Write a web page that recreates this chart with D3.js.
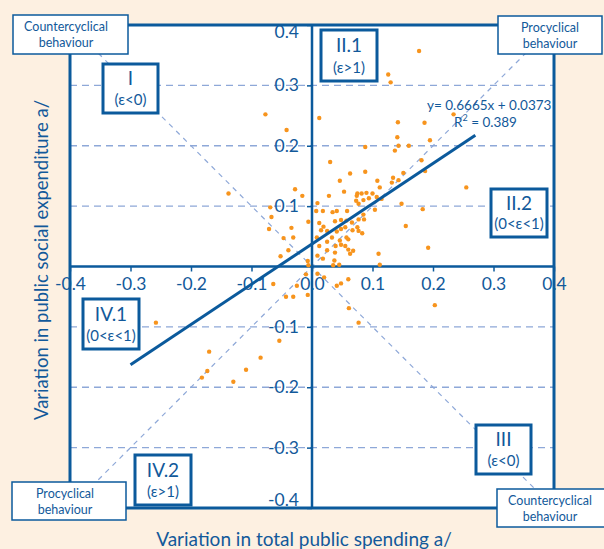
<!DOCTYPE html>
<html>
<head>
<meta charset="utf-8">
<script src="https://cdn.jsdelivr.net/npm/d3@7"></script>
<style>
  html, body { margin: 0; padding: 0; background: #fdf0e1; }
  svg { display: block; font-family: Lato, "Open Sans", sans-serif; }
</style>
</head>
<body>
<svg id="chart" width="604" height="549"></svg>
<script>
// Variation in total public spending (x) and in public social expenditure (y)
const spendingVar = [
  0.177, 0.126, 0.130, -0.077, 0.012, 0.234, 0.142, 0.186, -0.042, 0.141,
  0.195, 0.088, 0.143, 0.160, 0.137, 0.181, 0.030, 0.088, 0.063, 0.151,
  0.187, 0.134, 0.046, 0.108, 0.132, 0.143, 0.112, 0.255, -0.028, 0.053,
  -0.016, 0.075, 0.082, 0.090, 0.100, 0.074, 0.028, -0.138, 0.085, 0.094,
  0.073, 0.107, 0.115, 0.009, 0.077, 0.148, -0.069, 0.104, 0.183, 0.007,
  0.018, 0.034, 0.041, 0.058, -0.067, 0.085, -0.006, 0.012, 0.038, 0.048,
  0.057, 0.077, 0.086, 0.066, 0.155, -0.071, -0.034, 0.019, 0.048, 0.055,
  0.075, 0.015, 0.025, 0.041, 0.067, 0.083, 0.077, -0.047, -0.031, 0.008,
  0.033, 0.057, 0.025, 0.046, 0.060, 0.039, 0.048, 0.055, 0.012, -0.039,
  0.025, 0.060, 0.068, 0.192, 0.038, 0.063, -0.052, 0.009, 0.018, 0.110,
  0.037, -0.007, 0.045, 0.112, 0.035, -0.006, 0.009, 0.020, 0.060, -0.010,
  -0.064, -0.025, 0.041, 0.048, -0.043, -0.031, -0.007, 0.203, 0.061, 0.077,
  -0.258, -0.054, -0.170, -0.085, -0.173, -0.109, -0.182, -0.130
];
const socialVar = [
  0.357, 0.318, 0.305, 0.252, 0.246, 0.252, 0.239, 0.238, 0.226, 0.214,
  0.209, 0.198, 0.200, 0.200, 0.192, 0.176, 0.173, 0.157, 0.154, 0.155,
  0.158, 0.147, 0.142, 0.142, 0.139, 0.143, 0.131, 0.131, 0.128, 0.124,
  0.117, 0.121, 0.121, 0.122, 0.121, 0.117, 0.117, 0.121, 0.110, 0.113,
  0.109, 0.115, 0.112, 0.105, 0.104, 0.104, 0.098, 0.094, 0.095, 0.092,
  0.092, 0.090, 0.092, 0.092, 0.082, 0.086, 0.074, 0.072, 0.075, 0.077,
  0.076, 0.078, 0.078, 0.073, 0.067, 0.062, 0.064, 0.066, 0.062, 0.065,
  0.065, 0.060, 0.059, 0.058, 0.060, 0.055, 0.059, 0.047, 0.048, 0.048,
  0.048, 0.048, 0.041, 0.043, 0.045, 0.034, 0.036, 0.034, 0.034, 0.027,
  0.027, 0.028, 0.026, 0.031, 0.023, 0.021, 0.017, 0.018, 0.013, 0.021,
  0.010, 0.009, 0.003, 0.003, 0.002, 0.002, -0.012, -0.018, -0.021, -0.013,
  -0.029, -0.032, -0.032, -0.028, -0.050, -0.050, -0.047, -0.064, -0.069, -0.093,
  -0.093, -0.123, -0.141, -0.151, -0.173, -0.171, -0.184, -0.191
];

// Linear fit reported on the chart
const fitSlope = 0.6665;
const fitIntercept = 0.0373;
const fitR2 = 0.389;
const fitRange = [-0.3, 0.27];

// Axis ticks
const xTickValues = [-0.4, -0.3, -0.2, -0.1, 0, 0.1, 0.2, 0.3, 0.4];
const xTickLabels = ["-0.4", "-0.3", "-0.2", "-0.1", "0.0", "0.1", "0.2", "0.3", "0.4"];
const yTickValues = [0.4, 0.3, 0.2, 0.1, -0.1, -0.2, -0.3, -0.4];
const yTickLabels = ["0.4", "0.3", "0.2", "0.1", "-0.1", "-0.2", "-0.3", "-0.4"];
const gridValues = [0.3, 0.2, 0.1, -0.1, -0.2, -0.3];

// Quadrant names and elasticity conditions
const zoneNames = ["I", "II.1", "II.2", "III", "IV.1", "IV.2"];
const zoneConditions = ["(ε<0)", "(ε>1)", "(0<ε<1)", "(ε<0)", "(0<ε<1)", "(ε>1)"];
const cornerNotes = ["Countercyclical", "Procyclical", "Procyclical", "Countercyclical"];

const BLUE = "#0b5a9c";
const TEXT = "#12599a";
const DASH = "#8ea8d8";
const DOT = "#f7941d";

const svg = d3.select("#chart");
const x = d3.scaleLinear().domain([-0.4, 0.4]).range([70, 554]);
const y = d3.scaleLinear().domain([-0.4, 0.4]).range([508, 25]);

// plot area
svg.append("rect")
  .attr("x", x(-0.4)).attr("y", y(0.4))
  .attr("width", x(0.4) - x(-0.4)).attr("height", y(-0.4) - y(0.4))
  .attr("fill", "#ffffff");

// horizontal dashed grid
svg.append("g").selectAll("line").data(gridValues).join("line")
  .attr("x1", x(-0.4)).attr("x2", x(0.4))
  .attr("y1", d => y(d)).attr("y2", d => y(d))
  .attr("stroke", DASH).attr("stroke-width", 1.3).attr("stroke-dasharray", "7,5");

// 45-degree reference diagonals
const diag = svg.append("g").attr("stroke", DASH).attr("stroke-width", 1.2)
  .attr("stroke-dasharray", "5,5");
diag.append("line").attr("x1", x(-0.4)).attr("y1", y(-0.4)).attr("x2", x(0.4)).attr("y2", y(0.4));
diag.append("line").attr("x1", x(-0.4)).attr("y1", y(0.4)).attr("x2", x(0.4)).attr("y2", y(-0.4));

// axes through the origin
const xAxis = d3.axisBottom(x).tickValues(xTickValues)
  .tickFormat((d, i) => xTickLabels[i]).tickSize(5).tickPadding(6);
const gx = svg.append("g").attr("transform", `translate(0,${y(0)})`).call(xAxis);
const yAxis = d3.axisLeft(y).tickValues(yTickValues)
  .tickFormat((d, i) => yTickLabels[i]).tickSize(5).tickPadding(8);
const gy = svg.append("g").attr("transform", `translate(${x(0)},0)`).call(yAxis);

[gx, gy].forEach(g => {
  g.select(".domain").remove();
  g.selectAll(".tick line").attr("stroke", BLUE).attr("stroke-width", 1.5);
  g.selectAll(".tick text").attr("fill", TEXT)
    .style("font-size", "17.5px").style("font-family", "Lato, sans-serif");
});
// keep the end labels of the vertical axis inside the frame
gy.selectAll(".tick text").attr("dy", d => d === 0.4 ? "0.72em" : d === -0.4 ? "-0.15em" : "0.32em");

svg.append("line").attr("x1", x(-0.4)).attr("x2", x(0.4)).attr("y1", y(0)).attr("y2", y(0))
  .attr("stroke", BLUE).attr("stroke-width", 2.5);
svg.append("line").attr("x1", x(0)).attr("x2", x(0)).attr("y1", y(0.4)).attr("y2", y(-0.4))
  .attr("stroke", BLUE).attr("stroke-width", 2.5);

// observations
svg.append("g").selectAll("circle").data(d3.range(spendingVar.length)).join("circle")
  .attr("cx", i => x(spendingVar[i])).attr("cy", i => y(socialVar[i]))
  .attr("r", 2.2).attr("fill", DOT);

// fitted line
svg.append("line")
  .attr("x1", x(fitRange[0])).attr("y1", y(fitSlope * fitRange[0] + fitIntercept))
  .attr("x2", x(fitRange[1])).attr("y2", y(fitSlope * fitRange[1] + fitIntercept))
  .attr("stroke", BLUE).attr("stroke-width", 3);

// frame
svg.append("rect")
  .attr("x", x(-0.4)).attr("y", y(0.4))
  .attr("width", x(0.4) - x(-0.4)).attr("height", y(-0.4) - y(0.4))
  .attr("fill", "none").attr("stroke", BLUE).attr("stroke-width", 3);

// fit equation
const eq = svg.append("g").attr("fill", TEXT).style("font-size", "13.5px");
eq.append("text").attr("x", 427).attr("y", 110)
  .text(`y= ${fitSlope}x + ${fitIntercept}`);
const r2 = eq.append("text").attr("x", 454).attr("y", 127);
r2.append("tspan").text("R");
r2.append("tspan").attr("dy", -6).style("font-size", "9px").text("2");
r2.append("tspan").attr("dy", 6).text(` = ${fitR2}`);

// quadrant boxes
const zoneBoxes = [
  { x: 103, y: 64, w: 55, h: 49 },
  { x: 321, y: 30, w: 56, h: 51 },
  { x: 491, y: 189, w: 56, h: 48 },
  { x: 476, y: 425, w: 55, h: 49 },
  { x: 83, y: 299, w: 56, h: 50 },
  { x: 135, y: 455, w: 56, h: 50 }
];
zoneBoxes.forEach((b, i) => {
  const g = svg.append("g");
  g.append("rect").attr("x", b.x).attr("y", b.y).attr("width", b.w).attr("height", b.h)
    .attr("fill", "#ffffff").attr("stroke", BLUE).attr("stroke-width", 3);
  g.append("text").attr("x", b.x + b.w / 2).attr("y", b.y + b.h * 0.43)
    .attr("text-anchor", "middle").attr("fill", TEXT).style("font-size", "19px")
    .text(zoneNames[i]);
  g.append("text").attr("x", b.x + b.w / 2).attr("y", b.y + b.h * 0.84)
    .attr("text-anchor", "middle").attr("fill", TEXT).style("font-size", "15px")
    .text(zoneConditions[i]);
});

// corner notes
const noteBoxes = [
  { x: 13, y: 15, w: 115, h: 39 },
  { x: 498, y: 16, w: 104, h: 38 },
  { x: 12, y: 482, w: 114, h: 38 },
  { x: 497, y: 489, w: 110, h: 38 }
];
noteBoxes.forEach((b, i) => {
  const g = svg.append("g");
  g.append("rect").attr("x", b.x).attr("y", b.y).attr("width", b.w).attr("height", b.h)
    .attr("fill", "#ffffff").attr("stroke", BLUE).attr("stroke-width", 1.5);
  const cx = b.x + Math.min(b.w, 106) / 2;
  g.append("text").attr("x", cx).attr("y", b.y + 16)
    .attr("text-anchor", "middle").attr("fill", TEXT).style("font-size", "12.5px")
    .text(cornerNotes[i]);
  g.append("text").attr("x", cx).attr("y", b.y + 32)
    .attr("text-anchor", "middle").attr("fill", TEXT).style("font-size", "12.5px")
    .text("behaviour");
});

// axis titles
svg.append("text").attr("x", 304).attr("y", 546).attr("text-anchor", "middle")
  .attr("fill", TEXT).style("font-size", "19px")
  .text("Variation in total public spending a/");
svg.append("text").attr("transform", "translate(48,260) rotate(-90)")
  .attr("text-anchor", "middle").attr("fill", TEXT).style("font-size", "18.5px")
  .text("Variation in public social expenditure a/");
</script>
</body>
</html>
